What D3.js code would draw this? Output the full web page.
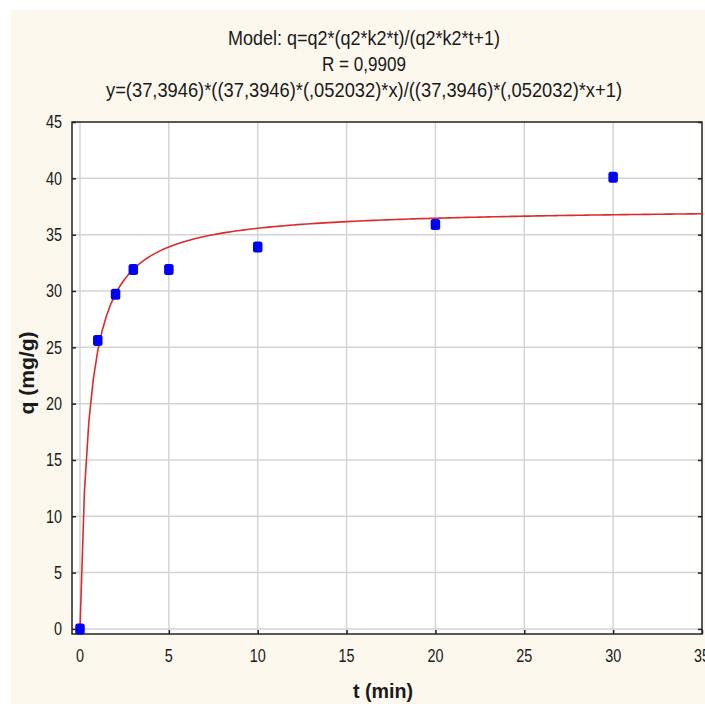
<!DOCTYPE html>
<html>
<head>
<meta charset="utf-8">
<script src="https://cdn.jsdelivr.net/npm/d3@7/dist/d3.min.js"></script>
<style>
  html, body { margin: 0; padding: 0; background: #ffffff; }
  svg { display: block; }
  text { font-family: "Liberation Sans", Arial, sans-serif; fill: #1a1a1a; }
</style>
</head>
<body>
<svg id="chart" width="705" height="704"></svg>
<script>
// ---- data ----
const timeValues = [0, 1, 2, 3, 5, 10, 20, 30];
const qValues = [0.0, 25.6, 29.7, 31.9, 31.9, 33.9, 35.9, 40.1];
const xTicks = [0, 5, 10, 15, 20, 25, 30, 35];
const yTicks = [0, 5, 10, 15, 20, 25, 30, 35, 40, 45];
const titleLines = [
  "Model: q=q2*(q2*k2*t)/(q2*k2*t+1)",
  "R = 0,9909",
  "y=(37,3946)*((37,3946)*(,052032)*x)/((37,3946)*(,052032)*x+1)"
];
const xTitle = "t (min)";
const yTitle = "q (mg/g)";
// fitted model parameters shown in the title
const q2 = 37.3946;
const k2 = 0.052032;

// ---- layout ----
const svg = d3.select("#chart");
const W = 705, H = 704;
const pL = 72, pR = 702, pT = 122, pB = 634;

svg.append("rect").attr("x", 0).attr("y", 0).attr("width", W).attr("height", H).attr("fill", "#ffffff");
svg.append("rect").attr("x", 11).attr("y", 10).attr("width", W - 11).attr("height", H - 10).attr("fill", "#fcf8ee");

const x = d3.scaleLinear().domain([-0.45, 35]).range([pL, pR]);
const y = d3.scaleLinear().domain([-0.45, 45]).range([pB, pT]);

// plot area
svg.append("rect").attr("x", pL).attr("y", pT).attr("width", pR - pL).attr("height", pB - pT).attr("fill", "#ffffff");

// condense helper
function condense(sel, f) {
  sel.each(function () {
    const w = this.getComputedTextLength();
    d3.select(this).attr("textLength", w * f).attr("lengthAdjust", "spacingAndGlyphs");
  });
}

// gridlines
const grid = svg.append("g");
grid.selectAll(".vg").data(xTicks.filter(d => d < 35)).join("line")
  .attr("x1", d => x(d)).attr("x2", d => x(d)).attr("y1", pT).attr("y2", pB)
  .attr("stroke", "#d4d4d4").attr("stroke-width", 1.5);
grid.selectAll(".hg").data(yTicks.filter(d => d < 45)).join("line")
  .attr("x1", pL).attr("x2", pR).attr("y1", d => y(d)).attr("y2", d => y(d))
  .attr("stroke", "#d4d4d4").attr("stroke-width", 1.5);

// axes (ticks inside)
const xAxis = d3.axisBottom(x).tickValues(xTicks).tickSize(-4).tickFormat("");
const yAxis = d3.axisLeft(y).tickValues(yTicks).tickSize(-4).tickFormat("");
svg.append("g").attr("transform", `translate(0,${pB})`).call(xAxis)
  .call(g => g.select(".domain").remove())
  .call(g => g.selectAll("line").attr("stroke", "#222").attr("stroke-width", 1.5));
svg.append("g").attr("transform", `translate(${pL},0)`).call(yAxis)
  .call(g => g.select(".domain").remove())
  .call(g => g.selectAll("line").attr("stroke", "#222").attr("stroke-width", 1.5));
const yAxisR = d3.axisRight(y).tickValues(yTicks).tickSize(-4).tickFormat("");
svg.append("g").attr("transform", `translate(${pR},0)`).call(yAxisR)
  .call(g => g.select(".domain").remove())
  .call(g => g.selectAll("line").attr("stroke", "#222").attr("stroke-width", 1.5));

// frame
svg.append("rect").attr("x", pL).attr("y", pT).attr("width", pR - pL).attr("height", pB - pT)
  .attr("fill", "none").attr("stroke", "#222").attr("stroke-width", 1.5);

// tick labels
svg.append("g").selectAll("text").data(xTicks).join("text")
  .attr("x", d => x(d)).attr("y", 662).attr("text-anchor", "middle")
  .attr("font-size", 18).text(d => d)
  .call(condense, 0.8);
svg.append("g").selectAll("text").data(yTicks).join("text")
  .attr("x", 62).attr("y", d => y(d)).attr("dy", "0.36em").attr("text-anchor", "end")
  .attr("font-size", 18).text(d => d)
  .call(condense, 0.8);

// model curve
svg.append("clipPath").attr("id", "clip").append("rect")
  .attr("x", pL).attr("y", pT).attr("width", pR - pL).attr("height", pB - pT);
const ts = d3.range(0, 35.01, 0.25);
const curve = ts.map(t => [t, q2 * (q2 * k2 * t) / (q2 * k2 * t + 1)]);
svg.append("path").datum(curve)
  .attr("clip-path", "url(#clip)")
  .attr("d", d3.line().x(d => x(d[0])).y(d => y(d[1])))
  .attr("fill", "none").attr("stroke", "#dd2b2b").attr("stroke-width", 1.6);

// points
svg.append("g").selectAll("rect").data(timeValues.map((t, i) => [t, qValues[i]])).join("rect")
  .attr("x", d => x(d[0]) - 4.75).attr("y", d => y(d[1]) - 5.5)
  .attr("width", 9.5).attr("height", 11).attr("rx", 2.5).attr("ry", 2.5)
  .attr("fill", "#0000fa");

// titles
const titleY = [45, 71, 97];
const titleW = [272, 84, 516];
svg.append("g").selectAll("text").data(titleLines).join("text")
  .attr("x", 364).attr("y", (d, i) => titleY[i]).attr("text-anchor", "middle")
  .attr("font-size", 21).text(d => d)
  .attr("textLength", (d, i) => titleW[i]).attr("lengthAdjust", "spacingAndGlyphs");

svg.append("text").attr("x", 383).attr("y", 698).attr("text-anchor", "middle")
  .attr("font-size", 20).attr("font-weight", "bold").text(xTitle)
  .attr("textLength", 60).attr("lengthAdjust", "spacingAndGlyphs");
svg.append("text").attr("transform", "translate(34,373) rotate(-90)").attr("text-anchor", "middle")
  .attr("font-size", 20).attr("font-weight", "bold").text(yTitle)
  .attr("textLength", 83).attr("lengthAdjust", "spacingAndGlyphs");
</script>
</body>
</html>
